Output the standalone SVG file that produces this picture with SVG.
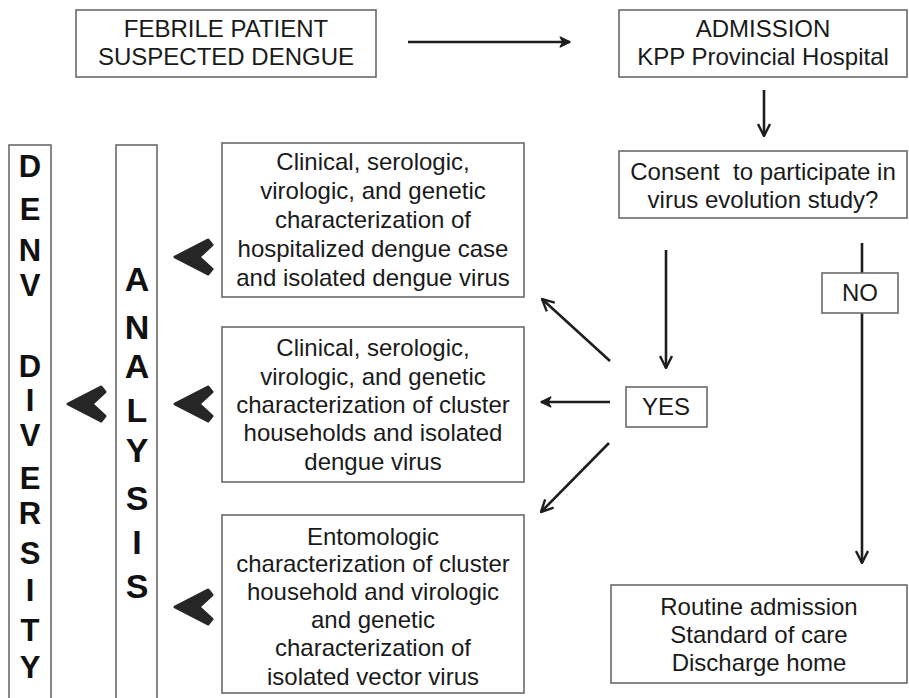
<svg xmlns="http://www.w3.org/2000/svg" width="909" height="698" viewBox="0 0 909 698">
<defs>
<style>
.box{fill:#fff;stroke:#6a6a6a;stroke-width:1.6}
.t{font-family:"Liberation Sans",Arial,sans-serif;font-size:24px;fill:#1a1a1a;text-anchor:middle}
.big{font-family:"Liberation Sans",Arial,sans-serif;font-weight:bold;fill:#111;text-anchor:middle}
.ln{stroke:#1e1e1e;stroke-width:2.6;fill:none}
.chev{fill:#262626;stroke:#262626;stroke-width:3;stroke-linejoin:round}
</style>
<marker id="ah" viewBox="0 0 12 12" refX="11" refY="6" markerWidth="5.5" markerHeight="5.5" orient="auto" markerUnits="strokeWidth">
<path d="M1,1 L11,6 L1,11" fill="none" stroke="#1e1e1e" stroke-width="2"/>
</marker>
<marker id="ahf" viewBox="0 0 12 12" refX="11" refY="6" markerWidth="4.5" markerHeight="4.5" orient="auto" markerUnits="strokeWidth">
<path d="M1,1 L11,6 L1,11 L4,6 Z" fill="#1e1e1e" stroke="#1e1e1e" stroke-width="1.5" stroke-linejoin="round"/>
</marker>
<path id="chevShape" d="M0,0 L33,-17 L37,-12 L24,0 L37,12 L33,17 Z"/>
</defs>
<rect width="909" height="698" fill="#fff"/>

<g id="connectors">
<line class="ln" x1="408" y1="42" x2="570" y2="42" marker-end="url(#ahf)"/>
<line class="ln" x1="764" y1="90" x2="764" y2="136" marker-end="url(#ah)"/>
<line class="ln" x1="666" y1="250" x2="666" y2="368" marker-end="url(#ah)"/>
<line class="ln" x1="862" y1="243" x2="862" y2="273"/>
<line class="ln" x1="862" y1="313" x2="862" y2="563" marker-end="url(#ah)"/>
<line class="ln" x1="610" y1="361" x2="542" y2="299" marker-end="url(#ah)"/>
<line class="ln" x1="610" y1="402" x2="541" y2="402" marker-end="url(#ahf)"/>
<line class="ln" x1="609" y1="443" x2="541" y2="512" marker-end="url(#ah)"/>
<use href="#chevShape" class="chev" x="175" y="257"/>
<use href="#chevShape" class="chev" x="175" y="404"/>
<use href="#chevShape" class="chev" x="175" y="607"/>
<use href="#chevShape" class="chev" x="68" y="404"/>
</g>

<g id="febrile">
<rect class="box" x="76" y="10" width="300" height="67"/>
<text class="t" x="226" y="37">FEBRILE PATIENT</text>
<text class="t" x="226" y="65">SUSPECTED DENGUE</text>
</g>

<g id="admission">
<rect class="box" x="619" y="10" width="288" height="67"/>
<text class="t" x="763" y="37">ADMISSION</text>
<text class="t" x="763" y="65">KPP Provincial Hospital</text>
</g>

<g id="consent">
<rect class="box" x="619" y="151" width="288" height="67"/>
<text class="t" x="763" y="180" xml:space="preserve">Consent  to participate in</text>
<text class="t" x="763" y="208">virus evolution study?</text>
</g>

<g id="yes">
<rect class="box" x="626" y="387" width="81" height="40"/>
<text class="t" x="666" y="415">YES</text>
</g>

<g id="no">
<rect class="box" x="822" y="273" width="76" height="40"/>
<text class="t" x="860" y="301">NO</text>
</g>

<g id="routine">
<rect class="box" x="611" y="585" width="296" height="98"/>
<text class="t" x="759" y="615">Routine admission</text>
<text class="t" x="759" y="643">Standard of care</text>
<text class="t" x="759" y="671">Discharge home</text>
</g>

<g id="hospitalized">
<rect class="box" x="222" y="143" width="302" height="154"/>
<text class="t" x="373" y="170">Clinical, serologic,</text>
<text class="t" x="373" y="199">virologic, and genetic</text>
<text class="t" x="373" y="228">characterization of</text>
<text class="t" x="373" y="257">hospitalized dengue case</text>
<text class="t" x="373" y="286">and isolated dengue virus</text>
</g>

<g id="cluster">
<rect class="box" x="222" y="327" width="302" height="155"/>
<text class="t" x="373" y="356">Clinical, serologic,</text>
<text class="t" x="373" y="385">virologic, and genetic</text>
<text class="t" x="373" y="413">characterization of cluster</text>
<text class="t" x="373" y="441">households and isolated</text>
<text class="t" x="373" y="470">dengue virus</text>
</g>

<g id="entomologic">
<rect class="box" x="222" y="515" width="302" height="178"/>
<text class="t" x="373" y="545">Entomologic</text>
<text class="t" x="373" y="572">characterization of cluster</text>
<text class="t" x="373" y="600">household and virologic</text>
<text class="t" x="373" y="628">and genetic</text>
<text class="t" x="373" y="656">characterization of</text>
<text class="t" x="373" y="685">isolated vector virus</text>
</g>

<g id="analysis">
<rect class="box" x="116" y="145" width="41" height="560"/>
<g class="big" font-size="34">
<text x="137" y="291">A</text>
<text x="137" y="339">N</text>
<text x="137" y="378">A</text>
<text x="137" y="422">L</text>
<text x="137" y="462">Y</text>
<text x="137" y="510">S</text>
<text x="137" y="554">I</text>
<text x="137" y="598">S</text>
</g>
</g>

<g id="denv">
<rect class="box" x="9" y="145" width="42" height="560"/>
<g class="big" font-size="31">
<text x="30" y="177">D</text>
<text x="30" y="220">E</text>
<text x="30" y="261">N</text>
<text x="30" y="296">V</text>
<text x="30" y="377">D</text>
<text x="30" y="411">I</text>
<text x="30" y="446">V</text>
<text x="30" y="489">E</text>
<text x="30" y="524">R</text>
<text x="30" y="564">S</text>
<text x="30" y="601">I</text>
<text x="30" y="641">T</text>
<text x="30" y="678">Y</text>
</g>
</g>
</svg>
